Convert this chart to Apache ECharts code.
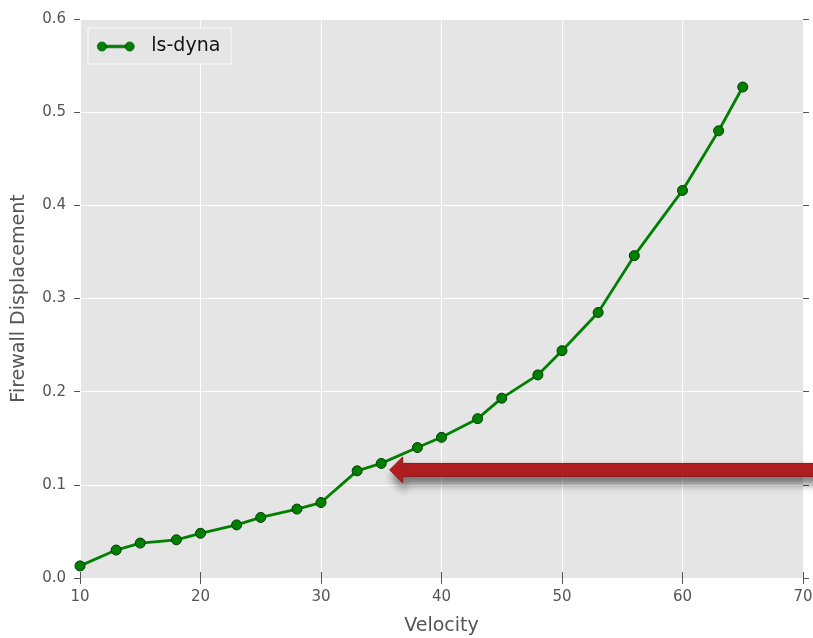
<!DOCTYPE html>
<html>
<head>
<meta charset="utf-8">
<script src="https://cdn.jsdelivr.net/npm/echarts@6/dist/echarts.min.js"></script>
<style>html,body{margin:0;padding:0;background:#fff}#c{width:813px;height:638px}</style>
</head>
<body>
<div id="c"></div>
<script>
const velocity = [10, 13, 15, 18, 20, 23, 25, 28, 30, 33, 35, 38, 40, 43, 45, 48, 50, 53, 56, 60, 63, 65];
const displacement = [0.013, 0.030, 0.0375, 0.041, 0.048, 0.057, 0.065, 0.074, 0.081, 0.115, 0.123, 0.140, 0.151, 0.171, 0.193, 0.218, 0.244, 0.285, 0.346, 0.416, 0.480, 0.527];
const seriesName = 'ls-dyna';
const arrowTip = [35.7, 0.116];

const font = 'DejaVu Sans';
const chart = echarts.init(document.getElementById('c'));
const pts = velocity.map((v, i) => [v, displacement[i]]);

const legendIcon = 'path://M5,0.5 A4.5,4.5 0 1,1 4.99,0.5 Z M9,3.7 L28,3.7 L28,6.3 L9,6.3 Z M32,0.5 A4.5,4.5 0 1,1 31.99,0.5 Z';

chart.setOption({
  animation: false,
  textStyle: { fontFamily: font },
  grid: { left: 80, top: 19, right: 10, bottom: 60, show: true, backgroundColor: '#e5e5e5', borderWidth: 0, outerBoundsMode: 'none', containLabel: false },
  legend: {
    left: 88, top: 28, padding: [9, 11, 8, 9], itemWidth: 37, itemHeight: 10, itemGap: 10,
    backgroundColor: '#e5e5e5', borderColor: '#f4f4f4', borderWidth: 1.5,
    icon: legendIcon,
    itemStyle: { color: '#008000', borderColor: '#005000', borderWidth: 0.6 },
    textStyle: { fontSize: 19, color: '#111', fontFamily: font, padding: [0, 0, 0, 12] },
    data: [seriesName]
  },
  xAxis: [{
    type: 'value', min: 10, max: 70, interval: 10,
    name: 'Velocity', nameLocation: 'middle', nameGap: 39,
    nameTextStyle: { fontSize: 19, color: '#555', fontFamily: font },
    axisLine: { show: false },
    axisTick: { show: true, inside: false, length: 6, lineStyle: { color: '#555' } },
    axisLabel: { fontSize: 15, color: '#555', margin: 12, fontFamily: font },
    splitLine: { show: true, lineStyle: { color: '#ffffff', width: 1 } }
  }, {
    type: 'value', position: 'top', min: 10, max: 70, interval: 10,
    axisLine: { show: false }, axisLabel: { show: false }, splitLine: { show: false },
    axisTick: { show: true, length: 6, lineStyle: { color: '#555' } }
  }],
  yAxis: [{
    type: 'value', min: 0, max: 0.6, interval: 0.1,
    name: 'Firewall Displacement', nameLocation: 'middle', nameGap: 51,
    nameTextStyle: { fontSize: 19, color: '#555', fontFamily: font },
    axisLine: { show: false },
    axisTick: { show: true, length: 6, lineStyle: { color: '#555' } },
    axisLabel: { fontSize: 15, color: '#555', margin: 14, fontFamily: font, formatter: v => v.toFixed(1) },
    splitLine: { show: true, lineStyle: { color: '#ffffff', width: 1 } }
  }, {
    type: 'value', position: 'right', min: 0, max: 0.6, interval: 0.1,
    axisLine: { show: false }, axisLabel: { show: false }, splitLine: { show: false },
    axisTick: { show: true, length: 6, lineStyle: { color: '#555' } }
  }],
  series: [{
    name: seriesName, type: 'line', data: pts,
    symbol: 'circle', symbolSize: 10,
    lineStyle: { color: '#008000', width: 2.8 },
    itemStyle: { color: '#008000', borderColor: '#003a00', borderWidth: 1 },
    clip: false
  }]
});

function drawArrow() {
  const tip = chart.convertToPixel({ xAxisIndex: 0, yAxisIndex: 0 }, arrowTip);
  const x = tip[0], y = tip[1];
  const W = chart.getWidth() + 10;
  chart.setOption({
    graphic: [{
      type: 'polygon', z: 100,
      shape: { points: [[x, y], [x + 13, y - 13], [x + 13, y - 6.5], [W, y - 6.5], [W, y + 6.5], [x + 13, y + 6.5], [x + 13, y + 13]] },
      style: {
        fill: '#b71f22', stroke: '#8e1518', lineWidth: 1,
        shadowBlur: 9, shadowColor: 'rgba(0,0,0,0.5)', shadowOffsetX: 2, shadowOffsetY: 7
      }
    }]
  });
}
drawArrow();
</script>
</body>
</html>
